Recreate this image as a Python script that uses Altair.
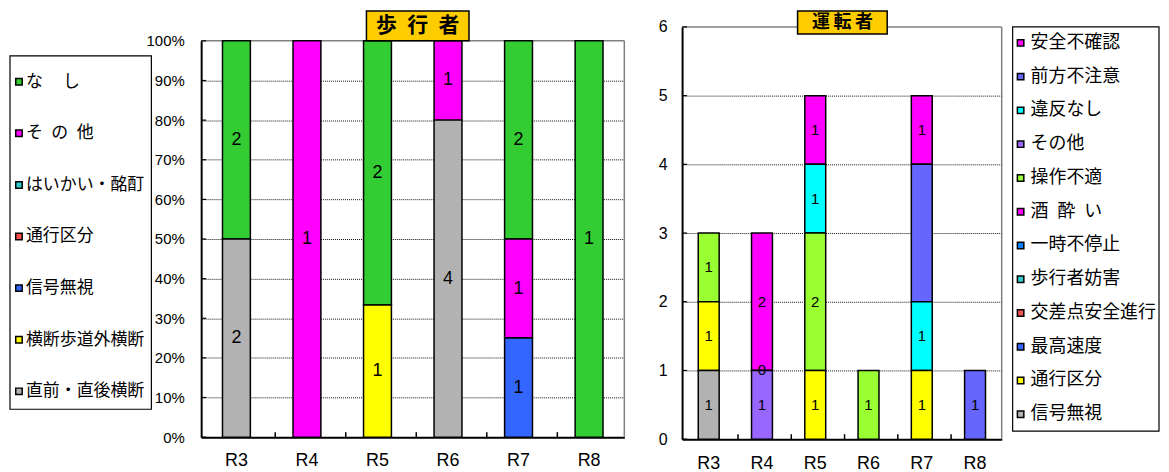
import altair as alt
import pandas as pd

JP = "Noto Sans CJK JP"
NUM = "Liberation Sans"

years = ["R3", "R4", "R5", "R6", "R7", "R8"]

# ---------------- 歩行者 (pedestrians) ----------------
ped_title = "歩\u2002行\u2002者"
# legend order, top -> bottom (stack order is the reverse)
ped_cats = ["な\u3000\u2009し", "そ\u2002の\u2002他", "はいかい・酩酊", "通行区分",
            "信号無視", "横断歩道外横断", "直前・直後横断"]
ped_colors = ["#33CC33", "#FF00FF", "#33CCCC", "#FF5050", "#3366FF", "#FFFF00", "#B2B2B2"]
ped_nashi = [2, None, 2, None, 2, 1]
ped_sonota = [None, 1, None, 1, 1, None]
ped_haikai = [None, None, None, None, None, None]
ped_tsuko = [None, None, None, None, None, None]
ped_shingo = [None, None, None, None, 1, None]
ped_oudan = [None, None, 1, None, None, None]
ped_chokuzen = [2, None, None, 4, None, None]
ped_series = [ped_nashi, ped_sonota, ped_haikai, ped_tsuko, ped_shingo, ped_oudan, ped_chokuzen]
ped_ticks = [0, 0.1, 0.2, 0.3, 0.4, 0.5, 0.6, 0.7, 0.8, 0.9, 1.0]
ped_nolabel = []

# ---------------- 運転者 (drivers) ----------------
drv_title = "運\u2009転\u2009者"
drv_cats = ["安全不確認", "前方不注意", "違反なし", "その他", "操作不適", "酒\u2002酔\u2002い",
            "一時不停止", "歩行者妨害", "交差点安全進行", "最高速度", "通行区分", "信号無視"]
drv_colors = ["#FF00FF", "#6666FF", "#00FFFF", "#9966FF", "#99FF33", "#FF00FF",
              "#0080FF", "#33CCCC", "#FF5050", "#3366FF", "#FFFF00", "#B2B2B2"]
drv_anzen = [None, 2, 1, None, 1, None]
drv_zenpo = [None, 0, None, None, 2, 1]
drv_ihan = [None, None, 1, None, 1, None]
drv_sonota = [None, 1, None, None, None, None]
drv_sousa = [1, None, 2, 1, None, None]
drv_suisui = [None, None, None, None, None, None]
drv_ichiji = [None, None, None, None, None, None]
drv_hokou = [None, None, None, None, None, None]
drv_kousa = [None, None, None, None, None, None]
drv_saikou = [None, None, None, None, None, None]
drv_tsuko = [1, None, 1, None, 1, None]
drv_shingo = [1, None, None, None, None, None]
drv_series = [drv_anzen, drv_zenpo, drv_ihan, drv_sonota, drv_sousa, drv_suisui,
              drv_ichiji, drv_hokou, drv_kousa, drv_saikou, drv_tsuko, drv_shingo]
drv_ticks = [0, 1, 2, 3, 4, 5, 6]
drv_nolabel = [("R7", "前方不注意")]


def long_table(cats, series, nolabel):
    rows = []
    n = len(cats)
    for i, (c, vals) in enumerate(zip(cats, series)):
        for r, v in zip(years, vals):
            if v is not None:
                rows.append({"R": r, "cat": c, "n": v, "rank": n - 1 - i,
                             "lab": (r, c) not in nolabel})
    return pd.DataFrame(rows)


one = pd.DataFrame({"k": [0]})


def panel(df, cats, colors, ticks, w, top, bottom, normalize, bar_w, yfmt, yfont, ypad,
          xfont, xpad, lab_font, title, tbox, tfont, ty, lbox, lrange, sym_x, lab_x, leg_font):
    ymax = ticks[-1]
    yscale = alt.Scale(domain=[0, ymax], nice=False, zero=True, range=[bottom, top])
    xscale = alt.Scale(domain=years)
    xaxis = alt.Axis(title=None, labelAngle=0, labelFontSize=xfont, labelPadding=xpad,
                     labelFont=NUM, labelColor="black", grid=False, ticks=False, tickSize=0,
                     domainColor="black", domainWidth=2)
    yaxis = alt.Axis(title=None, values=ticks, format=yfmt, labelFontSize=yfont,
                     labelPadding=ypad, labelFont=NUM, labelColor="black", grid=True,
                     ticks=False, tickSize=0, domainColor="black", domainWidth=2,
                     gridColor="#111", gridDash=[1, 1], gridWidth=1,
                     gridOpacity={"condition": {"test": f"datum.value >= {ymax}", "value": 0},
                                  "value": 1})
    color = alt.Color("cat:N", scale=alt.Scale(domain=cats, range=colors), legend=None)
    div = "datum.total" if normalize else "1"

    stacked = (alt.Chart(df)
               .transform_window(end="sum(n)", groupby=["R"],
                                 sort=[alt.SortField("rank", order="ascending")],
                                 frame=[None, 0])
               .transform_joinaggregate(total="sum(n)", groupby=["R"])
               .transform_calculate(div=div)
               .transform_calculate(y0="(datum.end - datum.n) / datum.div",
                                    y1="datum.end / datum.div",
                                    ym="(datum.end - datum.n / 2) / datum.div"))

    x_enc = alt.X("R:N", scale=xscale, axis=xaxis)
    bars = stacked.mark_bar(size=bar_w, stroke="black", strokeWidth=1.5).encode(
        x=x_enc, y=alt.Y("y0:Q", scale=yscale, axis=yaxis), y2="y1:Q", color=color)
    texts = stacked.transform_filter("datum.lab").mark_text(
        font=NUM, fontSize=lab_font, color="black", baseline="middle").encode(
        x=x_enc, y=alt.Y("ym:Q", scale=yscale, axis=None), text="n:Q")

    # plot frame (top and right edges)
    ftop = alt.Chart(one).mark_rule(color="#808080", strokeWidth=1.5).encode(
        x=alt.value(0), x2=alt.value(w), y=alt.value(top))
    fright = alt.Chart(one).mark_rule(color="#808080", strokeWidth=1.5).encode(
        x=alt.value(w), y=alt.value(top), y2=alt.value(bottom))

    ytk = alt.Chart(pd.DataFrame({"v": ticks})).mark_rule(color="black", strokeWidth=1.2).encode(
        y=alt.Y("v:Q", scale=yscale, axis=None), x=alt.value(0), x2=alt.value(5))
    xtk = alt.Chart(pd.DataFrame({"R": years[1:]})).mark_rule(color="black", strokeWidth=1.5).encode(
        x=alt.X("R:N", scale=xscale, axis=xaxis, bandPosition=0),
        y=alt.value(bottom), y2=alt.value(bottom - 5))

    tb = alt.Chart(one).mark_rect(fill="#FFCC00", stroke="black", strokeWidth=1.5).encode(
        x=alt.value(tbox[0]), x2=alt.value(tbox[1]), y=alt.value(tbox[2]), y2=alt.value(tbox[3]))
    tt = alt.Chart(one).mark_text(font=JP, fontSize=tfont, fontWeight="bold", color="black",
                                  align="center", baseline="middle").encode(
        x=alt.value((tbox[0] + tbox[1]) / 2), y=alt.value(ty), text=alt.value(title))

    leg_df = pd.DataFrame({"cat": cats})
    ly = alt.Y("cat:N", scale=alt.Scale(type="point", domain=cats, range=lrange, padding=0),
               axis=None)
    lb = alt.Chart(one).mark_rect(fill="white", stroke="black", strokeWidth=1.2).encode(
        x=alt.value(lbox[0]), x2=alt.value(lbox[1]), y=alt.value(lbox[2]), y2=alt.value(lbox[3]))
    ls = alt.Chart(leg_df).mark_square(size=42, stroke="black", strokeWidth=1.5, opacity=1).encode(
        x=alt.value(sym_x), y=ly, color=color)
    lt = alt.Chart(leg_df).mark_text(font=JP, fontSize=leg_font, color="black", align="left",
                                     baseline="middle").encode(
        x=alt.value(lab_x), y=ly, text="cat:N")

    return (alt.layer(lb, ls, lt, ftop, fright, bars, texts, ytk, xtk, tb, tt)
            .resolve_scale(y="independent")
            .properties(width=w, height=bottom))


ped_df = long_table(ped_cats, ped_series, ped_nolabel)
drv_df = long_table(drv_cats, drv_series, drv_nolabel)

left = panel(ped_df, ped_cats, ped_colors, ped_ticks, w=425, top=30, bottom=428,
             normalize=True, bar_w=28, yfmt=".0%", yfont=15, ypad=17, xfont=18, xpad=14,
             lab_font=18, title=ped_title, tbox=(166, 269, 0, 30), tfont=21, ty=15,
             lbox=(-192, -50, 45, 400), lrange=[71, 382], sym_x=-183, lab_x=-176, leg_font=17)

right = panel(drv_df, drv_cats, drv_colors, drv_ticks, w=321, top=16, bottom=430,
              normalize=False, bar_w=21, yfmt="d", yfont=16, ypad=15, xfont=18, xpad=15,
              lab_font=15, title=drv_title, tbox=(116, 206, 0, 23), tfont=18, ty=12,
              lbox=(332, 479, 16, 422), lrange=[32, 405], sym_x=340, lab_x=350, leg_font=18)

chart = (alt.hconcat(left, right, spacing=31)
         .resolve_scale(color="independent")
         .properties(padding=0, background="white")
         .configure_view(stroke="transparent"))

chart.save("out.html", embed_options={"renderer": "svg", "actions": False})
